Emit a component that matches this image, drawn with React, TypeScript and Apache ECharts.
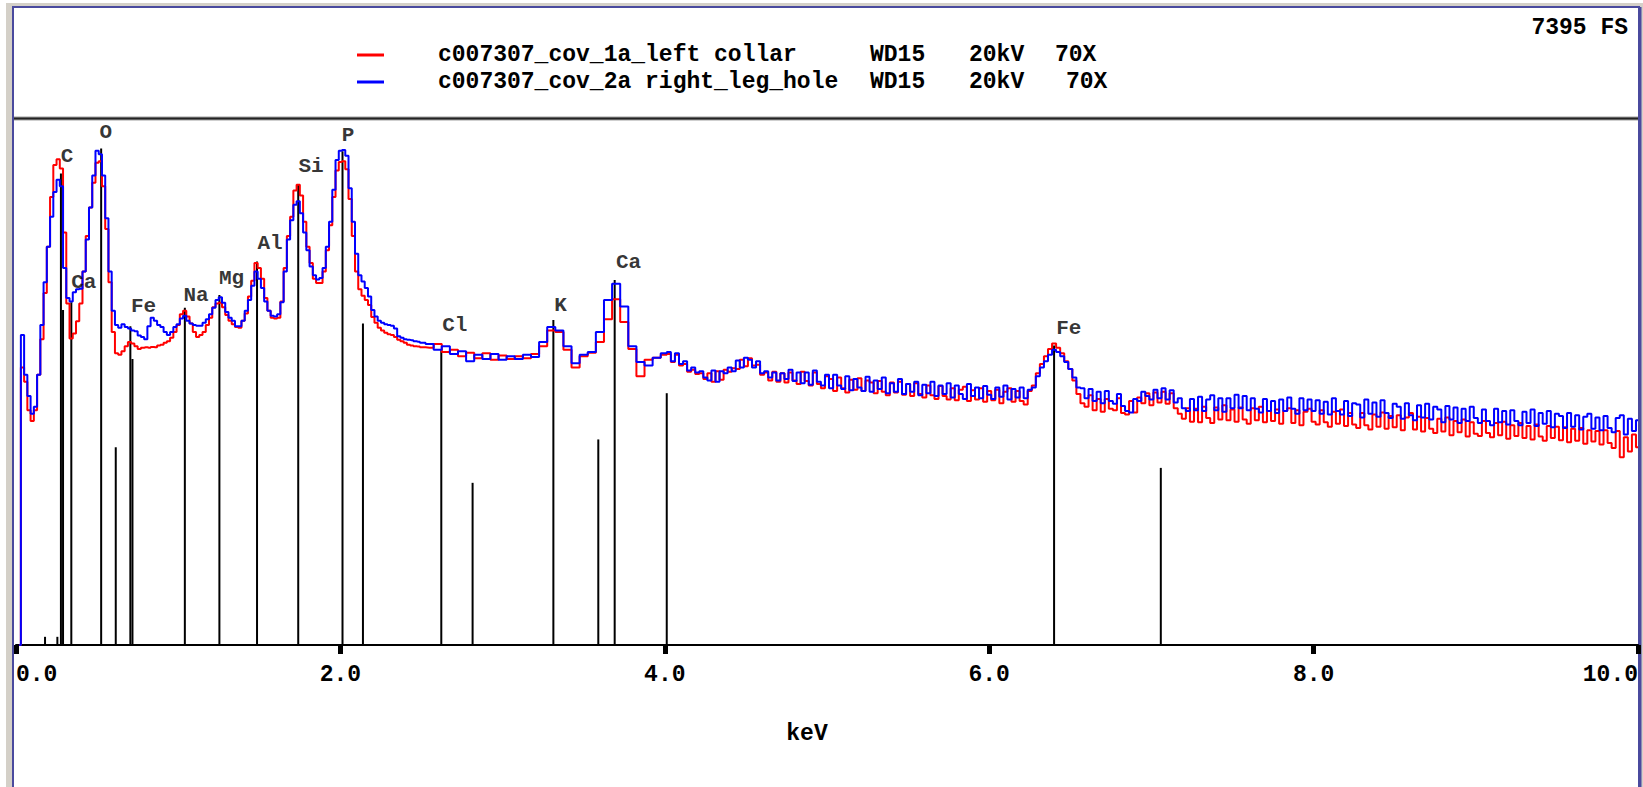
import React, { useEffect, useRef } from "react";
import * as echarts from "echarts";

// ---- Data (counts, full scale 7395) ----
const FULL_SCALE = 7395;
const SERIES_RED = "c007307_cov_1a_left collar";
const SERIES_BLUE = "c007307_cov_2a right_leg_hole";
const SETTINGS_RED = ["WD15", "20kV", "70X"];
const SETTINGS_BLUE = ["WD15", "20kV", "70X"];

// Low-energy channels: 0.02 .. 2.50 keV, step 0.02
const LO_START = 0.02;
const LO_STEP = 0.02;
const blueLo = [
  0, 4360, 3800, 3500, 3250, 3350, 3800, 4500, 5100, 5600,
  6020, 6370, 6540, 6450, 5300, 4880, 4830, 4960, 5000, 5010,
  5250, 5700, 6150, 6600, 6950, 6900, 6600, 6000, 5250, 4700,
  4500, 4460, 4510, 4470, 4450, 4420, 4410, 4350, 4330, 4300,
  4480, 4600, 4560, 4500, 4470, 4400, 4360, 4400, 4470, 4510,
  4590, 4630, 4560, 4520, 4500, 4490, 4490, 4530, 4580, 4650,
  4740, 4850, 4890, 4810, 4680, 4600, 4560, 4480, 4480, 4560,
  4700, 4850, 5050, 5250, 5150, 5020, 4830, 4700, 4630, 4620,
  4650, 4820, 5250, 5700, 5970, 6190, 6240, 6070, 5800, 5550,
  5320, 5200, 5140, 5160, 5300, 5600, 5950, 6400, 6820, 6950,
  6960, 6880, 6420, 5950, 5500, 5200, 5110, 5020, 4900, 4710,
  4620, 4560, 4530, 4510, 4500, 4490, 4450, 4340, 4320, 4300,
  4290, 4285, 4270, 4262, 4250,
];
const redLo = [
  0, 3900, 3700, 3300, 3150, 3300, 3800, 4300, 4950, 5600,
  6300, 6750, 6830, 6700, 5800, 4800, 4310, 4380, 4550, 4800,
  5250, 5750, 6150, 6500, 6780, 6800, 6450, 5850, 5100, 4400,
  4100, 4080, 4130, 4200, 4260, 4240, 4200, 4160, 4180, 4185,
  4180, 4190, 4185, 4210, 4220, 4250, 4270, 4320, 4400, 4500,
  4650, 4700, 4620, 4520, 4400, 4330, 4360, 4400, 4500, 4600,
  4750, 4800, 4810, 4750, 4640, 4560, 4510, 4470, 4460, 4560,
  4660, 4900, 5120, 5370, 5300, 5150, 4880, 4700, 4600, 4590,
  4600, 4830, 5300, 5750, 6020, 6390, 6470, 6320, 5950, 5600,
  5370, 5150, 5090, 5090, 5250, 5550, 5900, 6300, 6670, 6790,
  6800, 6690, 6270, 5750, 5250, 5000, 4910, 4850, 4780, 4610,
  4530, 4460, 4420, 4390, 4370, 4360, 4330, 4290, 4270, 4250,
  4220, 4210, 4200, 4195, 4185,
];

// Mid-energy channels: 2.55 .. 4.00 keV, step 0.05
const MID_START = 2.55;
const MID_STEP = 0.05;
const blueMid = [
  4230, 4150, 4200, 4090, 4130, 3990, 4080, 4020, 4090, 4010,
  4060, 4020, 4080, 4050, 4260, 4470, 4420, 4200, 3960, 4080,
  4120, 4400, 4850, 5080, 4760, 4200, 3980, 3930, 4040, 4100,
];
const redMid = [
  4180, 4230, 4120, 4150, 4060, 4110, 4030, 4100, 4010, 4070,
  4020, 4060, 4030, 4090, 4200, 4420, 4400, 4150, 3900, 4060,
  4110, 4260, 4580, 4860, 4540, 4160, 3780, 4010, 4040, 4080,
];

// High-energy channels: 4.025 .. 10.00 keV, step 0.025
const HI_START = 4.025;
const HI_STEP = 0.025;
const blueHi = [
  4120, 3990, 4100, 3950, 3990, 3860, 3900, 3830, 3850, 3760,
  3720, 3860, 3700, 3850, 3820, 3900, 3850, 4000, 3900, 4040,
  4010, 3900, 3990, 3820, 3850, 3760, 3830, 3720, 3820, 3740,
  3870, 3710, 3830, 3680, 3830, 3660, 3860, 3700, 3650, 3800,
  3610, 3800, 3650, 3600, 3780, 3580, 3740, 3620, 3570, 3770,
  3560, 3720, 3600, 3760, 3540, 3680, 3560, 3740, 3530, 3670,
  3560, 3700, 3510, 3660, 3540, 3700, 3500, 3650, 3530, 3680,
  3480, 3650, 3530, 3460, 3670, 3500, 3620, 3470, 3640, 3520,
  3460, 3620, 3490, 3650, 3450, 3600, 3480, 3620, 3470, 3590,
  3620, 3780, 3900, 3990, 4080, 4150, 4120, 4060, 3980, 3880,
  3760, 3620, 3610, 3470, 3600, 3430, 3560, 3400, 3570, 3430,
  3390, 3530, 3360, 3290, 3270, 3460, 3430, 3560, 3500, 3450,
  3590, 3470, 3610, 3450, 3580, 3410, 3470, 3330, 3290, 3460,
  3300, 3490, 3290, 3450, 3510, 3300, 3470, 3280, 3470, 3330,
  3520, 3330, 3500, 3300, 3470, 3320, 3270, 3460, 3290, 3430,
  3260, 3450, 3290, 3480, 3320, 3250, 3470, 3300, 3450, 3290,
  3440, 3250, 3420, 3240, 3470, 3290, 3240, 3430, 3220, 3400,
  3380, 3200, 3450, 3250, 3410, 3210, 3440, 3260, 3190, 3390,
  3350, 3180, 3400, 3230, 3160, 3370, 3200, 3390, 3170, 3350,
  3310, 3130, 3360, 3170, 3340, 3120, 3320, 3150, 3350, 3190,
  3120, 3310, 3150, 3090, 3320, 3130, 3290, 3100, 3300, 3150,
  3090, 3280, 3120, 3310, 3080, 3260, 3110, 3290, 3060, 3250,
  3220, 3050, 3260, 3070, 3230, 3030, 3210, 3250, 3040, 3200,
  3020, 3220, 3050, 2990, 3190, 3230, 2960, 3180, 3010, 3160,
];
const redHi = [
  4090, 3980, 4080, 3930, 3950, 3840, 3870, 3810, 3820, 3740,
  3820, 3700, 3850, 3730, 3870, 3840, 3890, 3880, 4010, 3920,
  4030, 3930, 3940, 3800, 3830, 3720, 3840, 3700, 3820, 3690,
  3830, 3720, 3670, 3840, 3710, 3650, 3830, 3670, 3610, 3780,
  3740, 3570, 3760, 3610, 3550, 3730, 3590, 3750, 3570, 3720,
  3690, 3540, 3710, 3560, 3510, 3690, 3550, 3700, 3520, 3670,
  3500, 3680, 3530, 3480, 3650, 3510, 3460, 3640, 3500, 3450,
  3610, 3440, 3590, 3630, 3430, 3580, 3450, 3610, 3420, 3570,
  3440, 3590, 3400, 3560, 3610, 3420, 3570, 3430, 3380, 3570,
  3650, 3820, 3950, 4060, 4160, 4240, 4180, 4100, 3990, 3880,
  3720, 3530, 3400, 3350, 3510, 3300, 3460, 3280, 3460, 3320,
  3300, 3470, 3260, 3240, 3430, 3270, 3480, 3400, 3540, 3370,
  3550, 3410, 3560, 3390, 3540, 3330, 3250, 3180, 3330, 3140,
  3320, 3130, 3350, 3190, 3120, 3340, 3170, 3370, 3160, 3310,
  3140, 3340, 3170, 3110, 3330, 3160, 3350, 3130, 3290, 3150,
  3310, 3110, 3290, 3330, 3120, 3300, 3090, 3280, 3320, 3140,
  3100, 3300, 3130, 3070, 3280, 3110, 3310, 3080, 3260, 3100,
  3050, 3260, 3090, 3030, 3240, 3070, 3270, 3040, 3220, 3060,
  3230, 3020, 3200, 3260, 3030, 3210, 3000, 3190, 3040, 2980,
  3180, 3000, 3200, 2950, 3150, 2990, 3170, 2930, 3130, 2970,
  2940, 3150, 2980, 2920, 3120, 2950, 3140, 2900, 3090, 2940,
  3120, 2910, 3080, 2890, 3100, 2930, 2870, 3080, 2910, 3070,
  2880, 3060, 2850, 3040, 2870, 3050, 2830, 3020, 2860, 3010,
  2820, 3020, 2840, 2770, 3010, 2640, 2920, 2720, 2960, 2780,
];

// KLM marker lines (keV, height in counts)
const markerEnergies = [0.179, 0.255, 0.277, 0.29, 0.341, 0.525, 0.615, 0.705, 0.718, 1.041, 1.254, 1.486, 1.74, 2.013, 2.139, 2.622, 2.815, 3.313, 3.59, 3.691, 4.012, 6.4, 7.058];
const markerHeights = [115, 115, 6630, 4710, 4820, 6980, 2780, 4480, 4020, 4740, 4920, 5390, 6480, 6940, 4520, 4150, 2280, 4570, 2890, 5130, 3540, 4210, 2490];

// Element labels (anchor keV, anchor counts)
const labelNames = ["C", "O", "Ca", "Fe", "Na", "Mg", "Al", "Si", "P", "Cl", "K", "Ca", "Fe"];
const labelEnergies = [0.314, 0.554, 0.418, 0.786, 1.11, 1.329, 1.566, 1.819, 2.047, 2.705, 3.358, 3.777, 6.491];
const labelCounts = [6861, 7199, 5090, 4752, 4914, 5150, 5638, 6726, 7170, 4485, 4780, 5371, 4443];

const xTicks = { min: 0, max: 10, interval: 2 };

const MONO = "'Liberation Mono', 'DejaVu Sans Mono', monospace";

function buildSeries(lo: number[], mid: number[], hi: number[]) {
  const out: number[][] = [];
  lo.forEach((v, i) => out.push([+(LO_START + i * LO_STEP).toFixed(3), v]));
  mid.forEach((v, i) => out.push([+(MID_START + i * MID_STEP).toFixed(3), v]));
  hi.forEach((v, i) => out.push([+(HI_START + i * HI_STEP).toFixed(3), v]));
  return out;
}

export default function App() {
  const ref = useRef<HTMLDivElement>(null);
  useEffect(() => {
    if (!ref.current) return;
    const chart = echarts.init(ref.current, undefined, { renderer: "svg" });
    const txt = { fontFamily: MONO, fontWeight: "bold" as const, fontSize: 23, color: "#000" };
    const rt = { ...txt, lineHeight: 26 };
    const option: any = {
      animation: false,
      backgroundColor: "#ffffff",
      graphic: [
        { type: "rect", z: 0, shape: { x: 6, y: 3, width: 1650, height: 800 }, style: { fill: "#d4d0c8" } },
        { type: "rect", z: 0, shape: { x: 13, y: 7, width: 1626, height: 800 }, style: { fill: "#ffffff", stroke: "#4a4a9e", lineWidth: 2 } },
        { type: "line", z: 0, shape: { x1: 1640, y1: 7, x2: 1640, y2: 787 }, style: { stroke: "#4a4a9e", lineWidth: 3 } },
        { type: "line", z: 10, shape: { x1: 14, y1: 118.5, x2: 1638, y2: 118.5 }, style: { stroke: "#a0a0a0", lineWidth: 4 } },
        { type: "line", z: 11, shape: { x1: 14, y1: 118.5, x2: 1638, y2: 118.5 }, style: { stroke: "#222222", lineWidth: 2 } },
        {
          type: "text", z: 11, x: 1628, y: 28,
          style: { text: `${FULL_SCALE} FS`, fill: "#000", align: "right", verticalAlign: "middle", font: `bold 23px ${MONO}` },
        },
      ],
      legend: {
        data: [SERIES_RED, SERIES_BLUE],
        orient: "vertical",
        left: 352,
        top: 37,
        itemWidth: 27,
        itemHeight: 3,
        itemGap: 1,
        icon: "rect",
        selectedMode: false,
        formatter: (name: string) => {
          const s = name === SERIES_RED ? SETTINGS_RED : SETTINGS_BLUE;
          const b = name === SERIES_RED ? "bx" : "by";
          return `{s| }{n|${name}}{a|${s[0]}}{${b}|${s[1]}}{c|${s[2]}}`;
        },
        textStyle: {
          ...rt,
          rich: {
            s: { ...rt, width: 49 },
            n: { ...rt, width: 432 },
            a: { ...rt, width: 99 },
            bx: { ...rt, width: 86 },
            by: { ...rt, width: 97 },
            c: { ...rt },
          },
        },
      },
      grid: { left: 16, right: 5, top: 119, bottom: 142 },
      xAxis: {
        type: "value",
        min: xTicks.min,
        max: xTicks.max,
        interval: xTicks.interval,
        name: "keV",
        nameLocation: "middle",
        nameGap: 77,
        nameTextStyle: { ...txt, padding: [0, 40, 0, 0] },
        axisLine: { show: true, onZero: false, lineStyle: { color: "#000", width: 2 } },
        axisTick: { show: true, length: 9, lineStyle: { color: "#000", width: 5 } },
        splitLine: { show: false },
        axisLabel: {
          ...txt,
          margin: 18,
          formatter: (v: number) => v.toFixed(1),
          alignMinLabel: "left",
          alignMaxLabel: "right",
        },
      },
      yAxis: { type: "value", min: 0, max: FULL_SCALE, show: false, splitLine: { show: false } },
      series: [
        {
          name: "markers",
          type: "bar",
          barWidth: 2,
          silent: true,
          z: 1,
          itemStyle: { color: "#000" },
          data: markerEnergies.map((e, i) => [e, markerHeights[i]]),
        },
        {
          name: SERIES_RED,
          type: "line",
          step: "middle",
          symbol: "none",
          z: 3,
          color: "#ff0000",
          lineStyle: { color: "#ff0000", width: 2 },
          data: buildSeries(redLo, redMid, redHi),
        },
        {
          name: SERIES_BLUE,
          type: "line",
          step: "middle",
          symbol: "none",
          z: 4,
          color: "#0000ff",
          lineStyle: { color: "#0000ff", width: 2 },
          data: buildSeries(blueLo, blueMid, blueHi),
        },
        {
          name: "labels",
          type: "scatter",
          symbolSize: 1,
          silent: true,
          z: 5,
          itemStyle: { color: "rgba(0,0,0,0)" },
          label: {
            show: true,
            position: "inside",
            formatter: (p: any) => p.data[2],
            fontFamily: MONO,
            fontWeight: "bold",
            fontSize: 21,
            color: "#000",
          },
          data: labelNames.map((n, i) => [labelEnergies[i], labelCounts[i], n]),
        },
      ],
    };
    chart.setOption(option);
    return () => chart.dispose();
  }, []);
  return (
    <div
      ref={ref}
      style={{ position: "fixed", left: 0, top: 0, width: 1643, height: 787, background: "#fff" }}
    />
  );
}
